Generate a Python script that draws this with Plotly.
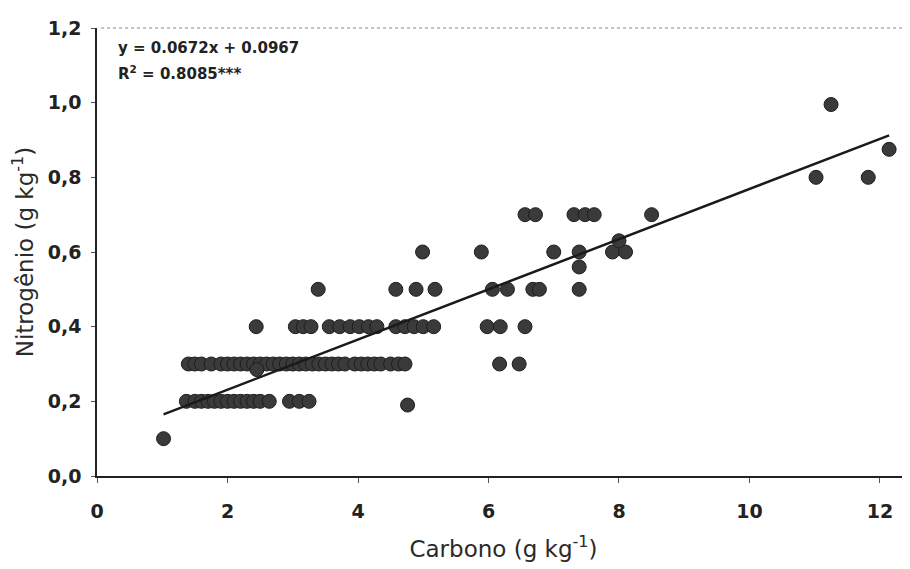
import plotly.graph_objects as go

# Carbono (g/kg) and Nitrogênio (g/kg), grouped by N level
c_01 = [1.02]
n_01 = [0.10]
c_02 = [1.37, 1.5, 1.6, 1.7, 1.8, 1.9, 2.0, 2.1, 2.2, 2.3, 2.4, 2.5, 2.64, 2.95, 3.1, 3.25]
n_02 = [0.2] * len(c_02)
c_02b = [4.76]
n_02b = [0.19]
c_03 = [1.4, 1.5, 1.6, 1.75, 1.9, 2.0, 2.1, 2.2, 2.3, 2.4, 2.5, 2.6, 2.7, 2.8, 2.9,
        3.0, 3.1, 3.2, 3.3, 3.4, 3.5, 3.6, 3.7, 3.8, 3.95, 4.05, 4.15, 4.25, 4.35,
        4.5, 4.62, 4.72, 6.17, 6.47]
n_03 = [0.3] * len(c_03)
c_03b = [2.45]
n_03b = [0.285]
c_04 = [2.44, 3.04, 3.16, 3.28, 3.56, 3.72, 3.88, 4.02, 4.16, 4.29, 4.58, 4.72, 4.86,
        5.0, 5.16, 5.98, 6.18, 6.56]
n_04 = [0.4] * len(c_04)
c_05 = [3.39, 4.58, 4.89, 5.18, 6.06, 6.29, 6.68, 6.78, 7.39]
n_05 = [0.5] * len(c_05)
c_06 = [4.99, 5.89, 7.0, 7.39, 7.9, 8.1, 8.0, 7.39]
n_06 = [0.6, 0.6, 0.6, 0.6, 0.6, 0.6, 0.63, 0.56]
c_07 = [6.56, 6.72, 7.31, 7.48, 7.62, 8.5]
n_07 = [0.7] * len(c_07)
c_hi = [11.02, 11.82, 12.14, 11.25]
n_hi = [0.8, 0.8, 0.875, 0.995]

carbono = c_01 + c_02 + c_02b + c_03 + c_03b + c_04 + c_05 + c_06 + c_07 + c_hi
nitrogenio = n_01 + n_02 + n_02b + n_03 + n_03b + n_04 + n_05 + n_06 + n_07 + n_hi

slope = 0.0672
intercept = 0.0967
eq_text = "y = 0.0672x + 0.0967"
r2_text = "R<sup>2</sup> = 0.8085***"
x_ticks = [0, 2, 4, 6, 8, 10, 12]
y_ticks = [0.0, 0.2, 0.4, 0.6, 0.8, 1.0, 1.2]

x_line = [min(carbono), max(carbono)]
y_line = [slope * v + intercept for v in x_line]

FONT = "DejaVu Sans, Liberation Sans, Arial"

fig = go.Figure()
fig.add_trace(go.Scatter(
    x=carbono, y=nitrogenio, mode="markers",
    marker=dict(size=14, color="#3a3a3a", line=dict(color="#1e1e1e", width=1)),
    showlegend=False,
))
fig.add_trace(go.Scatter(
    x=x_line, y=y_line, mode="lines",
    line=dict(color="#1a1a1a", width=2.5), showlegend=False,
))

for txt, ys in [(eq_text, -9), (r2_text, -33)]:
    fig.add_annotation(
        x=0, y=1, xref="paper", yref="paper", xanchor="left", yanchor="top",
        xshift=19, yshift=ys, showarrow=False, align="left",
        text=txt,
        font=dict(family=FONT, size=15, color="#222", weight="bold"),
    )
# dotted top border of plot area
fig.add_shape(type="line", xref="paper", yref="paper", x0=0.005, x1=1, y0=1, y1=1,
              line=dict(color="#888", width=1, dash="dot"))

fig.update_layout(
    width=910, height=569,
    margin=dict(l=89, r=8, t=20, b=101),
    paper_bgcolor="white", plot_bgcolor="white",
    separators=",.",
    font=dict(family=FONT, color="#222"),
    xaxis=dict(
        range=[0, 12.46], tickvals=x_ticks, ticktext=[str(v) for v in x_ticks],
        showgrid=False, zeroline=False, showline=True, linecolor="#222", linewidth=1.5,
        ticks="outside", ticklen=5, tickcolor="#555", automargin=False,
        ticklabelstandoff=12,
        tickfont=dict(size=19, family=FONT, color="#222", weight="bold"),
        title=dict(text="Carbono (g kg<sup>-1</sup>)",
                   font=dict(size=23, family=FONT, color="#2a2a2a"), standoff=20),
    ),
    yaxis=dict(
        range=[0, 1.2], tickvals=y_ticks, tickformat=".1f",
        showgrid=False, zeroline=False, showline=True, linecolor="#222", linewidth=1.5,
        ticks="outside", ticklen=4, tickcolor="#555", automargin=False,
        ticklabelstandoff=6,
        tickfont=dict(size=19, family=FONT, color="#222", weight="bold"),
        title=dict(text="Nitrogênio (g kg<sup>-1</sup>)",
                   font=dict(size=23, family=FONT, color="#2a2a2a"), standoff=12),
    ),
)

fig.write_html("out.html")
